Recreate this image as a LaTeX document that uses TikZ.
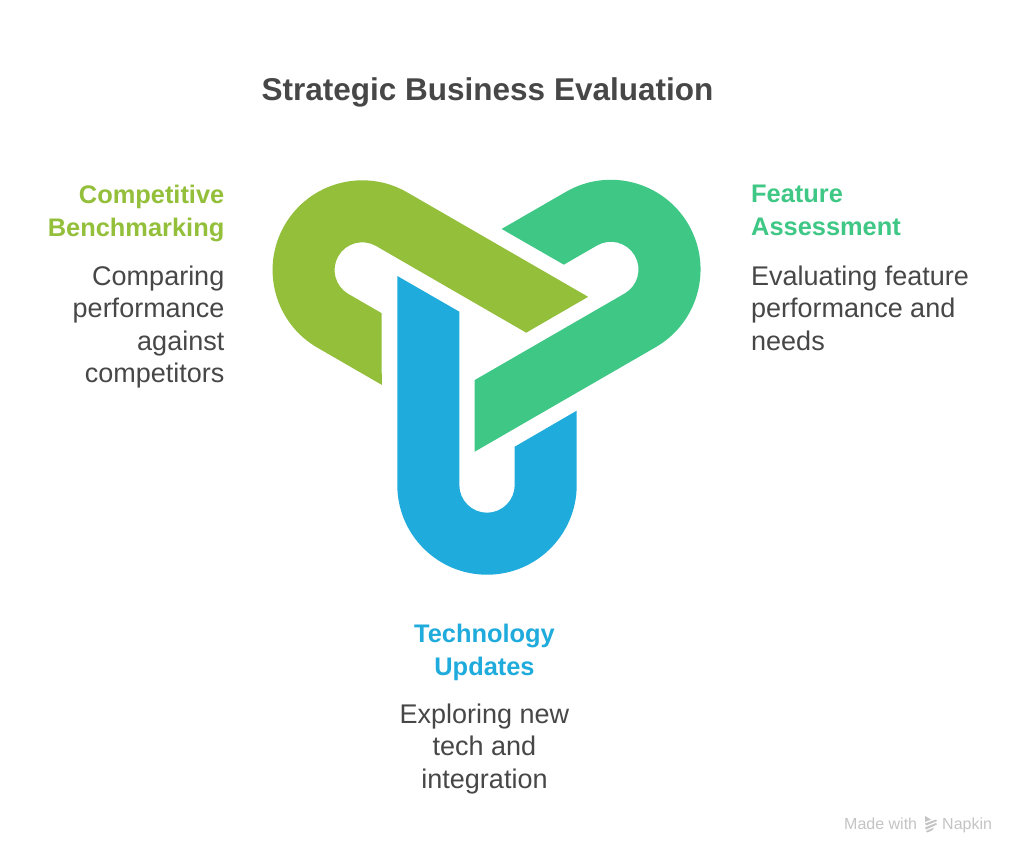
\documentclass[tikz,border=0pt]{standalone}
\usepackage{fontspec}
\setmainfont{Liberation Sans}
\definecolor{olivec}{HTML}{93BF3B}
\definecolor{greenc}{HTML}{3EC785}
\definecolor{bluec}{HTML}{1FABDC}
\definecolor{inkc}{HTML}{474747}
\definecolor{markc}{HTML}{C4C4C4}
\newcommand{\linkshape}{(397.3,276) -- (459.3,311.7) -- (459.3,485) arc[start angle=180,end angle=0,radius=27.7] -- (514.7,446.7) -- (576.7,410.7) -- (576.7,485) arc[start angle=0,end angle=180,radius=89.7] -- cycle}
\tikzset{
  x=1pt,y=-1pt,
  heading/.style={inner sep=0pt,font=\fontsize{25.4}{32.5}\selectfont\bfseries},
  body/.style={inner sep=0pt,text=inkc,font=\fontsize{27}{32.5}\selectfont},
  linkpart/.style={draw=none}
}
\begin{document}
\begin{tikzpicture}
\useasboundingbox (0,0) rectangle (1024,861);
\fill[white] (0,0) rectangle (1024,861);
% the three interlocking links
\fill[linkpart,bluec] \linkshape;
\begin{scope}[shift={(486.7,341.5)},rotate=120,shift={(-486.7,-341.5)}]
\fill[linkpart,greenc] \linkshape;
\end{scope}
\begin{scope}[shift={(486.7,341.5)},rotate=240,shift={(-486.7,-341.5)}]
\fill[linkpart,olivec] \linkshape;
\end{scope}
% title
\node[inner sep=0pt,anchor=base,text=inkc,font=\fontsize{31.5}{40}\selectfont\bfseries] (title) at (487.5,101) {Strategic Business Evaluation};
% competitive
\node[heading,text=olivec,anchor=north east,align=right] (h1) at (224.5,185) {Competitive\\Benchmarking};
\node[body,anchor=north east,align=right] (b1) at (224.5,265.5) {Comparing\\performance\\against\\competitors};
% feature
\node[heading,text=greenc,anchor=north west,align=left] (h2) at (751,185) {Feature\\Assessment};
\node[body,anchor=north west,align=left] (b2) at (751,265.5) {Evaluating feature\\performance and\\needs};
% technology
\node[heading,text=bluec,anchor=north,align=center] (h3) at (484.5,624) {Technology\\Updates};
\node[body,anchor=north,align=center] (b3) at (484.5,703.5) {Exploring new\\tech and\\integration};
% watermark
\node[inner sep=0pt,anchor=base west,text=markc,font=\fontsize{16}{18}\selectfont] (made) at (844,829) {Made with};
\node[inner sep=0pt,anchor=base west,text=markc,font=\fontsize{16}{18}\selectfont] (nap) at (942,829) {Napkin};
\fill[markc] (925,816) -- (931,819.5) -- (925,822) -- cycle;
\fill[markc] (925,823.5) -- (936,819.5) -- (937,821) -- (926,825.5) -- cycle;
\fill[markc] (925,827.5) -- (936,823) -- (937,824.5) -- (926,829.5) -- cycle;
\fill[markc] (926,831) -- (934,827.5) -- (932,830.5) -- (927,832.5) -- cycle;
\end{tikzpicture}
\end{document}
